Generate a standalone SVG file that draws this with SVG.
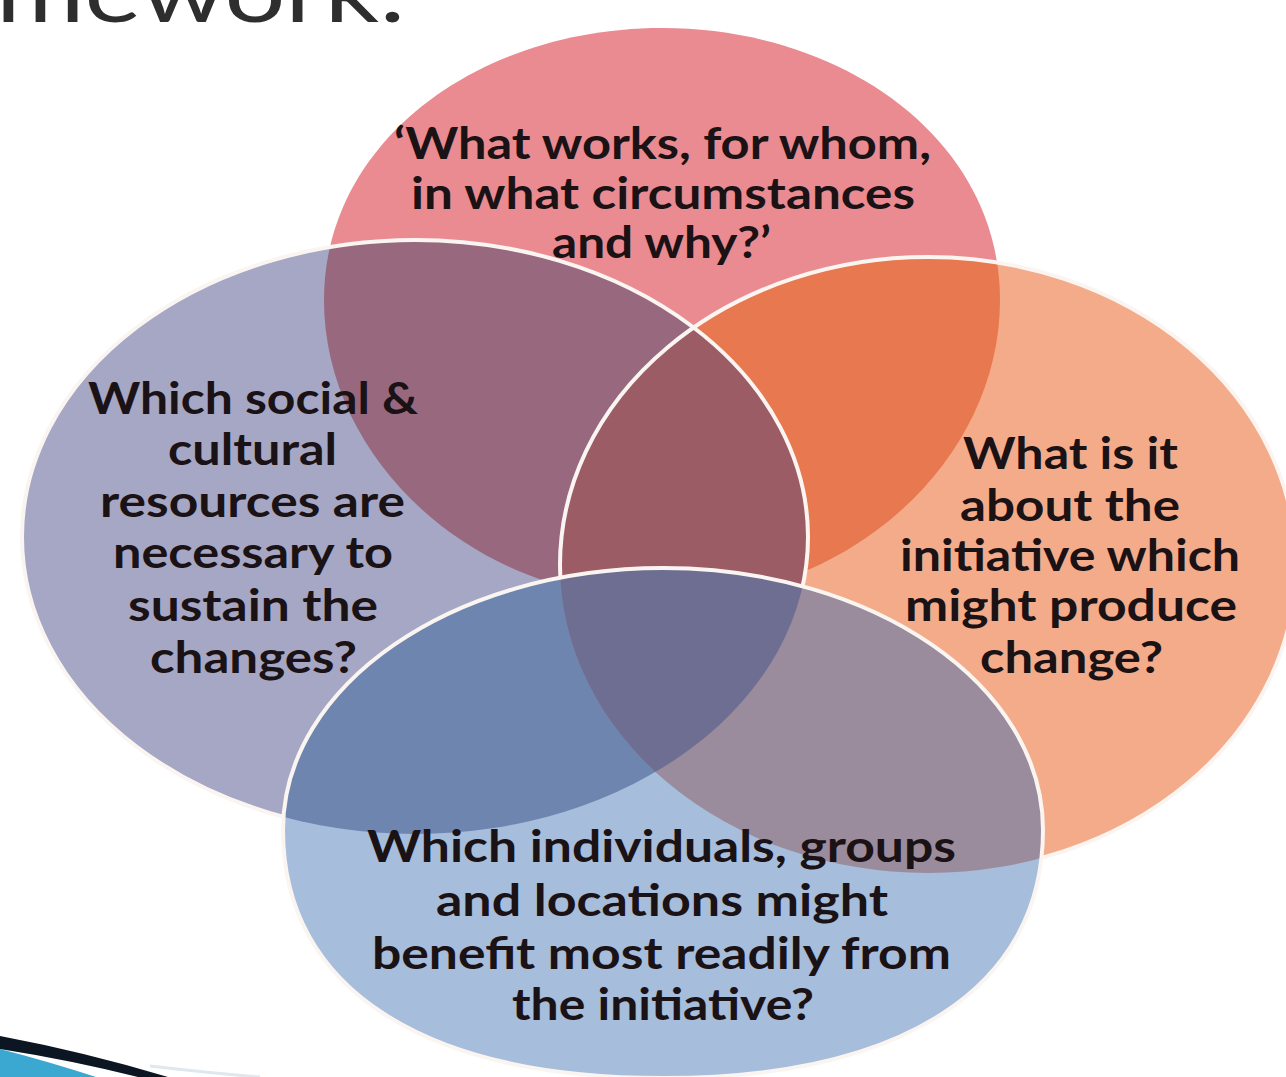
<svg xmlns="http://www.w3.org/2000/svg" width="1286" height="1077" viewBox="0 0 1286 1077">
<style>
.lbl{font-family:Lato,"Open Sans","Liberation Sans",sans-serif;font-weight:700;font-size:44px;fill:#1a1214}
.ttl{font-family:Lato,"Open Sans","Liberation Sans",sans-serif;font-weight:400;font-size:86px;fill:#2e2e2e}
.edge{fill:none;stroke:#fbf5f2;stroke-width:4}
</style>
<defs>
<path id="topShape" d="M324,300 C324,140 480,28 662,28 C844,28 1000,140 1000,300 C1000,460 850,600 662,600 C474,600 324,460 324,300 Z"/>
<ellipse id="leftShape" cx="415" cy="537" rx="393" ry="297"/>
<ellipse id="rightShape" cx="928" cy="565" rx="368" ry="308"/>
<path id="bottomShape" d="M283,830 C283,685 453,568 663,568 C873,568 1043,685 1043,830 C1043,990 900,1078 663,1078 C426,1078 283,990 283,830 Z"/>
<clipPath id="cLeft"><use href="#leftShape"/></clipPath>
<clipPath id="cRight"><use href="#rightShape"/></clipPath>
<clipPath id="cBottom"><use href="#bottomShape"/></clipPath>
</defs>
<rect width="1286" height="1077" fill="#ffffff"/>
<g id="title">
<text class="ttl" x="-4" y="22" textLength="410" lengthAdjust="spacingAndGlyphs">mework:</text>
</g>
<g id="swoosh">
<path d="M0,1049 Q50,1062 96,1077 L0,1077 Z" fill="#3aa8d0"/>
<path d="M0,1036 Q85,1052 168,1077 L138,1077 Q70,1060 0,1049 Z" fill="#0c1622"/>
<path d="M150,1066 Q210,1073 260,1077" fill="none" stroke="#dfe8ee" stroke-width="3"/>
</g>
<g id="shapes">
<use id="ellipse-top" href="#topShape" fill="#e98b91"/>
<use id="ellipse-left" href="#leftShape" fill="#a5a7c5"/>
<use href="#topShape" fill="#98687f" clip-path="url(#cLeft)"/>
<use id="ellipse-right" href="#rightShape" fill="#f4ab8a"/>
<use href="#topShape" fill="#e8784f" clip-path="url(#cRight)"/>
<use href="#leftShape" fill="#9c5c66" clip-path="url(#cRight)"/>
<use href="#leftShape" class="edge"/>
<use href="#rightShape" class="edge"/>
<use id="ellipse-bottom" href="#bottomShape" fill="#a6bddb"/>
<use href="#leftShape" fill="#6e85af" clip-path="url(#cBottom)"/>
<use href="#rightShape" fill="#9a8c9c" clip-path="url(#cBottom)"/>
<g clip-path="url(#cBottom)"><use href="#leftShape" fill="#6d6e92" clip-path="url(#cRight)"/></g>
<use href="#bottomShape" class="edge"/>
</g>
<g id="node-top">
<text class="lbl" x="394" y="159" textLength="537" lengthAdjust="spacingAndGlyphs">‘What works, for whom,</text>
<text class="lbl" x="411" y="209" textLength="504" lengthAdjust="spacingAndGlyphs">in what circumstances</text>
<text class="lbl" x="552" y="258" textLength="219" lengthAdjust="spacingAndGlyphs">and why?’</text>
</g>
<g id="node-left">
<text class="lbl" x="88" y="414" textLength="330" lengthAdjust="spacingAndGlyphs">Which social &amp;</text>
<text class="lbl" x="168" y="465" textLength="169" lengthAdjust="spacingAndGlyphs">cultural</text>
<text class="lbl" x="100" y="517" textLength="305" lengthAdjust="spacingAndGlyphs">resources are</text>
<text class="lbl" x="113" y="568" textLength="280" lengthAdjust="spacingAndGlyphs">necessary to</text>
<text class="lbl" x="128" y="621" textLength="250" lengthAdjust="spacingAndGlyphs">sustain the</text>
<text class="lbl" x="150" y="673" textLength="207" lengthAdjust="spacingAndGlyphs">changes?</text>
</g>
<g id="node-right">
<text class="lbl" x="963" y="469" textLength="215" lengthAdjust="spacingAndGlyphs">What is it</text>
<text class="lbl" x="960" y="521" textLength="220" lengthAdjust="spacingAndGlyphs">about the</text>
<text class="lbl" x="900" y="571" textLength="340" lengthAdjust="spacingAndGlyphs">initiative which</text>
<text class="lbl" x="905" y="621" textLength="332" lengthAdjust="spacingAndGlyphs">might produce</text>
<text class="lbl" x="980" y="673" textLength="183" lengthAdjust="spacingAndGlyphs">change?</text>
</g>
<g id="node-bottom">
<text class="lbl" x="367" y="862" textLength="589" lengthAdjust="spacingAndGlyphs">Which individuals, groups</text>
<text class="lbl" x="436" y="916" textLength="452" lengthAdjust="spacingAndGlyphs">and locations might</text>
<text class="lbl" x="372" y="969" textLength="579" lengthAdjust="spacingAndGlyphs">benefit most readily from</text>
<text class="lbl" x="512" y="1020" textLength="302" lengthAdjust="spacingAndGlyphs">the initiative?</text>
</g>
</svg>
